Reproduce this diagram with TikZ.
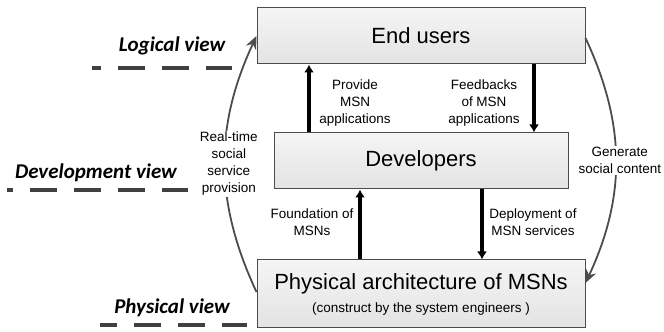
\documentclass[tikz,border=0pt]{standalone}
\usepackage{fontspec}
\setmainfont{Liberation Sans}
\newfontfamily\viewfont{Carlito}
\usetikzlibrary{arrows.meta}

\tikzset{
    layerbox/.style={draw=black!70,line width=1pt,top color=black!4,bottom color=black!11,
        inner sep=0pt,align=center,font=\fontsize{22}{26}\selectfont},
    flowarrow/.style={line width=3.2pt,-{Latex[length=8pt,width=10pt]}},
    viewarrow/.style={draw=black!70,line width=1.8pt,-{Stealth[length=13pt,width=11pt]}},
    viewname/.style={font=\viewfont\bfseries\itshape\fontsize{21}{24}\selectfont,inner sep=0pt},
    viewline/.style={draw=black!75,line width=3.5pt,dash pattern=on 27pt off 17pt},
    note/.style={font=\fontsize{13.5}{17}\selectfont,align=center,inner sep=1pt},
}

\begin{document}
\begin{tikzpicture}[x=1pt,y=1pt]
    \useasboundingbox (0,0) rectangle (664,332);
    \pgfmathsetmacro{\boxwidth}{328}
    \pgfmathsetmacro{\devwidth}{294}
    \pgfmathsetmacro{\boxheight}{56}
    % the three layers
    \node[layerbox,minimum width=\boxwidth,minimum height=\boxheight](users) at (421,296) {End users};
    \node[layerbox,minimum width=\devwidth,minimum height=\boxheight](dev) at (421,171) {Developers};
    \node[layerbox,minimum width=\boxwidth,minimum height=68](phys) at (421,38)
        {Physical architecture of MSNs\\[-3pt]{\fontsize{13.5}{16}\selectfont (construct by the system engineers )}};
    % arrows between layers
    \draw[flowarrow] ([xshift=-112pt]dev.north) -- ([xshift=-112pt]users.south);
    \draw[flowarrow] ([xshift=113pt]users.south) -- ([xshift=113pt]dev.north);
    \draw[flowarrow] ([xshift=-61pt]phys.north) -- ([xshift=-61pt]dev.south);
    \draw[flowarrow] ([xshift=61pt]dev.south) -- ([xshift=61pt]phys.north);
    \node[note](provide) at (355,229) {Provide\\MSN\\applications};
    \node[note](feedback) at (484,229) {Feedbacks\\of MSN\\applications};
    \node[note](foundation) at (312,110) {Foundation of\\MSNs};
    \node[note](deploy) at (533,110) {Deployment of\\MSN services};
    % side curves
    \draw[viewarrow] ([yshift=2pt]phys.west) to[bend left=25]
        node[note,fill=white,xshift=4pt](realtime) {Real-time\\social\\service\\provision} (users.west);
    \draw[viewarrow] ([yshift=-2pt]users.east) to[bend left=25]
        node[note,fill=white,xshift=4pt](generate) {Generate\\social content} ([yshift=11pt]phys.east);
    % views
    \node[viewname](logical) at (172,286) {Logical view};
    \node[viewname](development) at (96,159) {Development view};
    \node[viewname](physical) at (172,24) {Physical view};
    \draw[viewline,dash phase=18pt] (92,264) -- (232,264);
    \draw[viewline,dash phase=21pt] (7,142) -- (188,142);
    \draw[viewline,dash phase=10pt] (100,7) -- (247,7);
\end{tikzpicture}
\end{document}
